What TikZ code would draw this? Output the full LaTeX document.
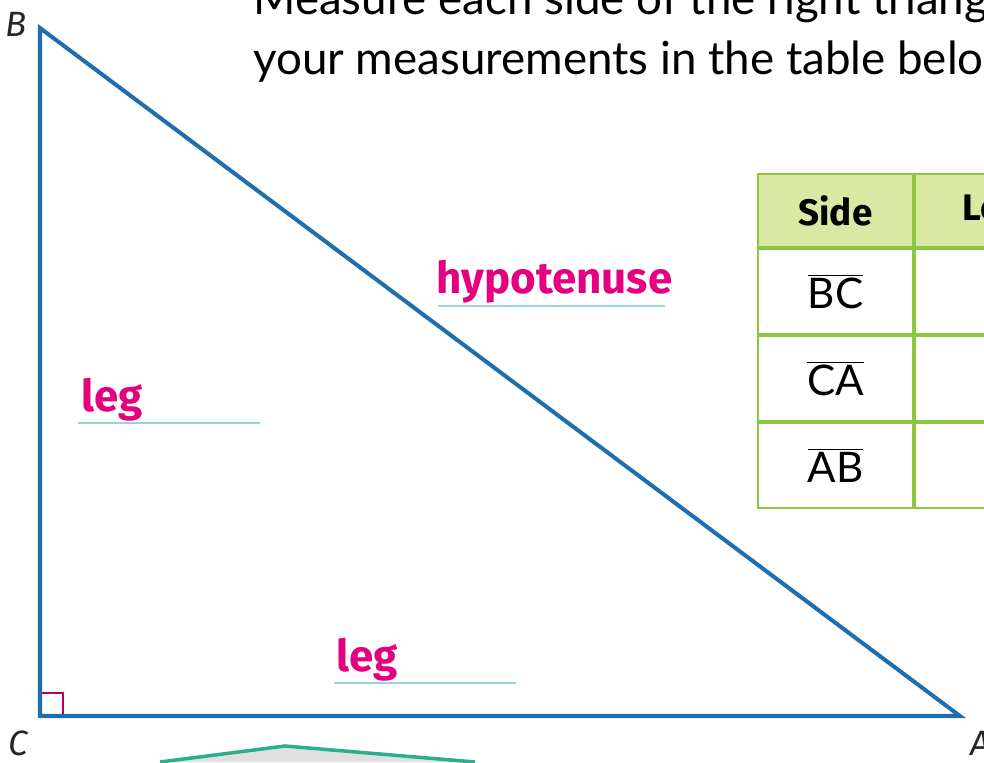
\documentclass[tikz,border=0pt]{standalone}
\usepackage{fontspec}
\setmainfont{Lato}
\newfontfamily\labelfont{Fira Sans}
\usetikzlibrary{positioning}
\definecolor{sideblue}{HTML}{1F6FAE}
\definecolor{lblpink}{HTML}{E5007E}
\definecolor{lineblue}{HTML}{93D3E3}
\definecolor{tabgreen}{HTML}{8DC63F}
\definecolor{headgreen}{HTML}{D9E8A3}
\definecolor{shapegreen}{HTML}{2BAE8C}

\begin{document}
\begin{tikzpicture}[x=0.02cm, y=-0.02cm,
      side/.style={draw=sideblue, line width=2.3pt, line join=miter},
      vtx/.style={font=\labelfont\itshape\fontsize{20}{20}\selectfont, text=black!85},
      lbl/.style={font=\labelfont\bfseries\fontsize{25}{25}\selectfont, text=lblpink, anchor=base west, inner sep=0pt},
      ansline/.style={draw=lineblue, line width=1.1pt},
      cell/.style={draw=tabgreen, line width=1.1pt, anchor=north west, minimum width=3.1cm, inner sep=0pt},
      hdtxt/.style={font=\labelfont\bfseries\fontsize{21}{21}\selectfont},
      seg/.style={font=\fontsize{24}{24}\selectfont}
    ]
    \useasboundingbox (0,0) rectangle (984,762);
    \clip (0,0) rectangle (984,762);

    % Anweisung
    \node[font=\fontsize{26}{31}\selectfont, anchor=base west, inner sep=0pt] (instr1) at (253,14) {Measure each side of the right triangle. Record};
    \node[font=\fontsize{26}{31}\selectfont, anchor=base west, inner sep=0pt] (instr2) at (253,74) {your measurements in the table below.};

    % Dreieck
    \coordinate (B) at (40,28);
    \coordinate (C) at (40,716);
    \coordinate (A) at (960,716);
    \draw[draw=lblpink!80!black, line width=0.8pt] (40,693) -- (63,693) -- (63,716);
    \draw[side] (B) -- (C) -- (A) -- cycle;
    \node[vtx] (labB) at (16,24) {B};
    \node[vtx] (labC) at (18,743) {C};
    \node[vtx] (labA) at (980,743) {A};

    % Beschriftungen
    \node[lbl] (hyp) at (436,293) {hypotenuse};
    \draw[ansline] (438,306) -- (665,306);
    \node[lbl] (legBC) at (81,411) {leg};
    \draw[ansline] (78,423) -- (260,423);
    \node[lbl] (legCA) at (336,671) {leg};
    \draw[ansline] (334,683) -- (516,683);

    % Tabelle
    \node[cell, fill=headgreen, minimum height=1.46cm, hdtxt] (hdside) at (757,173) {Side};
    \node[cell, fill=headgreen, minimum height=1.46cm, minimum width=5cm, anchor=west] (hdlen) at (hdside.east) {};
    \node[hdtxt, anchor=west, inner sep=0pt] (lentxt) at (962,0 |- hdside.center) {Length};
    \node[cell, minimum height=1.7cm, below=0pt of hdside.south west, anchor=north west, seg] (bc) {$\overline{\mbox{BC}}$};
    \node[cell, minimum height=1.7cm, minimum width=5cm, anchor=west] (bcval) at (bc.east) {};
    \node[cell, minimum height=1.7cm, anchor=north west, seg] (ca) at (bc.south west) {$\overline{\mbox{CA}}$};
    \node[cell, minimum height=1.7cm, minimum width=5cm, anchor=west] (caval) at (ca.east) {};
    \node[cell, minimum height=1.7cm, anchor=north west, seg] (ab) at (ca.south west) {$\overline{\mbox{AB}}$};
    \node[cell, minimum height=1.7cm, minimum width=5cm, anchor=west] (abval) at (ab.east) {};

    % Rand der naechsten Figur
    \fill[black!12] (160,762) -- (285,746) -- (475,762) -- cycle;
    \draw[draw=shapegreen, line width=2pt] (160,762) -- (285,746) -- (475,762);
  \end{tikzpicture}
\end{document}
